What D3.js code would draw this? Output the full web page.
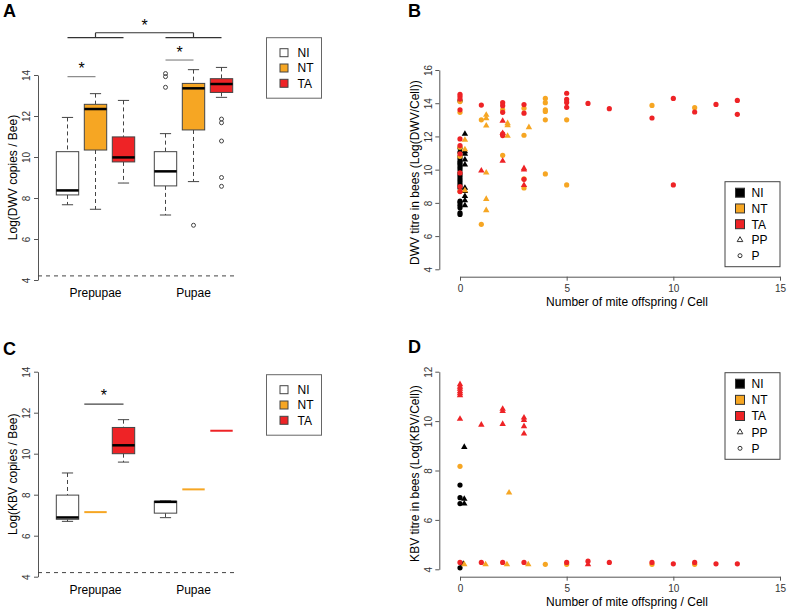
<!DOCTYPE html>
<html><head><meta charset="utf-8">
<script src="https://cdn.jsdelivr.net/npm/d3@7"></script>
<style>body{margin:0;background:#fff}svg{display:block}text{font-family:"Liberation Sans",Arial,Helvetica,sans-serif}</style>
</head><body><svg id="c" width="787" height="614"></svg>
<script>
// ---------------- DATA ----------------
const stages = ["Prepupae", "Pupae"];
const treatments = ["NI", "NT", "TA"];
const boxPositions = [1, 2, 3, 4.5, 5.5, 6.5];
const boxYTicks = [4, 6, 8, 10, 12, 14];
const detectionLimit = 4.2;
// [low whisker, Q1, median, Q3, high whisker] : Prepupae NI, NT, TA, Pupae NI, NT, TA
const dwvBoxStats = [
  [7.67, 8.15, 8.37, 10.26, 11.93],
  [7.45, 10.34, 12.34, 12.57, 13.09],
  [8.73, 9.76, 9.98, 10.98, 12.76],
  [7.17, 8.59, 9.30, 10.26, 11.14],
  [8.80, 11.32, 13.35, 13.59, 14.26],
  [12.91, 13.15, 13.56, 13.82, 14.37]
];
const dwvOutliers = [[], [], [], [14.07, 13.92, 13.40], [6.67], [11.85, 11.67, 10.78, 9.0, 8.57]];
const kbvBoxStats = [
  [6.70, 6.80, 6.89, 7.98, 9.06],
  [7.15, 7.15, 7.15, 7.15, 7.15],
  [9.59, 10.0, 10.41, 11.28, 11.66],
  [6.88, 7.10, 7.65, 7.68, 7.70],
  [8.26, 8.26, 8.26, 8.26, 8.26],
  [11.12, 11.12, 11.12, 11.12, 11.12]
];
const kbvOutliers = [[], [], [], [], [], []];

const scatterXTicks = [0, 5, 10, 15];
const dwvYTicks = [4, 6, 8, 10, 12, 14, 16];
const kbvYTicks = [4, 6, 8, 10, 12];
const scatterLegend = ["NI", "NT", "TA", "PP", "P"];

// [mite offspring per cell (as plotted), titre]
const dwvNI_P = [[0,14.15],[0,11.3],[0,11.05],[0,10.8],[0,10.65],[0,10.5],[0,10.4],[0,10.3],[0,10.15],[0,10.0],[0,9.8],[0,9.65],[0,9.5],[0,9.35],[0,9.2],[0,9.05],[0,8.9],[0,8.1],[0,8.0],[0,7.85],[0,7.7],[0,7.4],[0,7.3]];
const dwvNI_PP = [[0.23,12.15],[0.23,11.1],[0.23,10.95],[0.23,10.6],[0.23,10.3],[0.23,8.9],[0.23,8.7],[0.23,8.4],[0.23,8.15],[0.23,7.85]];
const dwvNT_P = [[0,14.1],[0,13.45],[0,11.35],[0,10.8],[0,8.7],[1,13.0],[1,6.71],[2,13.6],[2,10.86],[3,13.7],[3,12.07],[3,9.45],[3,8.9],[4,14.29],[4,14.03],[4,13.6],[4,13.5],[4,13.0],[4,9.74],[5,13.0],[5,9.08],[9,13.87],[11,13.73]];
const dwvNT_PP = [[0.23,11.79],[0.23,11.22],[0.23,8.75],[1.23,13.29],[1.23,13.09],[1.23,12.65],[1.23,9.82],[1.23,8.23],[1.23,7.55],[2.23,12.79],[2.23,12.67],[2.23,12.03],[3.23,12.55]];
const dwvTA_P = [[0,14.54],[0,14.4],[0,14.25],[0,13.6],[0,11.85],[0,11.45],[0,10.95],[0,9.8],[0,8.98],[0,8.68],[1,13.89],[2,14.03],[2,13.85],[2,13.45],[2,12.15],[2,12.05],[3,13.92],[3,13.4],[3,9.42],[5,14.6],[5,14.23],[5,14.05],[5,13.75],[6,13.99],[7,13.67],[9,13.11],[10,14.29],[10,9.08],[11,13.47],[12,13.93],[13,14.17],[13,13.33]];
const dwvTA_PP = [[1,9.94],[2,12.93],[2,12.2],[2,10.52],[3,10.08],[3,10.0],[3,9.06]];

const kbvNI_P = [[0,7.41],[0,6.9],[0,6.66],[0,4.06]];
const kbvNI_PP = [[0.2,8.95],[0.2,6.85],[0.2,6.66],[0.15,4.22]];
const kbvNT_P = [[0,8.17],[4,4.2],[5,4.2],[9,4.2],[11,4.2]];
const kbvNT_PP = [[0.2,4.2],[1.2,4.2],[2.2,4.2],[3.2,4.2],[2.3,7.1]];
const kbvTA_P = [[0,4.28],[1,4.28],[2,4.28],[3,4.28],[5,4.28],[6,4.33],[7,4.28],[9,4.28],[10,4.22],[11,4.28],[12,4.22],[13,4.22]];
const kbvTA_PP = [[0,11.49],[0,11.39],[0,11.3],[0,11.2],[0,11.12],[0,11.04],[0,10.09],[1,9.85],[2,10.49],[2,10.4],[2,9.88],[3,10.14],[3,10.04],[3,9.79],[3,9.49],[6,4.2]];

// ---------------- STYLE ----------------
const ORANGE = "#F6A623", RED = "#EE2326";
const boxFill = ["#ffffff", ORANGE, RED];
const groupColor = ["#000000", ORANGE, RED];
const svg = d3.select("#c");
svg.append("rect").attr("width", 787).attr("height", 614).attr("fill", "#fff");

function styleAxis(g) {
  g.select(".domain").attr("stroke", "#555");
  g.selectAll(".tick line").attr("stroke", "#555");
  g.selectAll(".tick text").attr("fill", "#333").attr("font-size", 10);
}

function panelLetter(t, x, y) {
  svg.append("text").attr("x", x).attr("y", y).attr("font-size", 18).attr("font-weight", "bold").text(t);
}

// ---------------- BOX PANELS ----------------
function boxPanel(o) {
  const x = d3.scaleLinear().domain([1, 6.5]).range([67.5, 221.5]);
  const y = d3.scaleLinear().domain([4, 14]).range([o.bottom, o.top]);
  const g = svg.append("g");
  const ax = g.append("g").attr("transform", "translate(38,0)")
    .call(d3.axisLeft(y).tickValues(boxYTicks).tickSize(4).tickSizeOuter(0));
  styleAxis(ax);
  ax.selectAll(".tick text").attr("x", 0).attr("y", -8).attr("dy", 0)
    .attr("text-anchor", "middle").attr("transform", "rotate(-90)");
  // detection limit
  g.append("line").attr("x1", 38).attr("x2", 237).attr("y1", y(detectionLimit)).attr("y2", y(detectionLimit))
    .attr("stroke", "#444").attr("stroke-dasharray", "4,4");
  const hw = (x(1.4) - x(0.6)) / 2;
  o.stats.forEach((s, i) => {
    const cx = x(boxPositions[i]);
    const col = boxFill[i % 3];
    const [lo, q1, med, q3, hi] = s;
    if (q1 === q3 && lo === hi) {
      g.append("line").attr("x1", cx - hw).attr("x2", cx + hw).attr("y1", y(med)).attr("y2", y(med))
        .attr("stroke", col).attr("stroke-width", 2);
      return;
    }
    const wk = "#444";
    g.append("line").attr("x1", cx).attr("x2", cx).attr("y1", y(hi)).attr("y2", y(q3)).attr("stroke", wk).attr("stroke-dasharray", "4,3");
    g.append("line").attr("x1", cx).attr("x2", cx).attr("y1", y(q1)).attr("y2", y(lo)).attr("stroke", wk).attr("stroke-dasharray", "4,3");
    [hi, lo].forEach(v => g.append("line").attr("x1", cx - hw / 2).attr("x2", cx + hw / 2).attr("y1", y(v)).attr("y2", y(v)).attr("stroke", wk));
    g.append("rect").attr("x", cx - hw).attr("width", 2 * hw).attr("y", y(q3)).attr("height", y(q1) - y(q3))
      .attr("fill", col).attr("stroke", "#444");
    g.append("line").attr("x1", cx - hw).attr("x2", cx + hw).attr("y1", y(med)).attr("y2", y(med)).attr("stroke", "#000").attr("stroke-width", 2.5);
    o.outliers[i].forEach(v => g.append("circle").attr("cx", cx).attr("cy", y(v)).attr("r", 2).attr("fill", "none").attr("stroke", "#444"));
  });
  // x labels
  stages.forEach((s, k) => {
    g.append("text").attr("x", x(k === 0 ? 2 : 5.5)).attr("y", o.bottom + 17).attr("text-anchor", "middle").attr("font-size", 12).text(s);
  });
  // y label
  g.append("text").attr("transform", `translate(17,${(o.top + o.bottom) / 2}) rotate(-90)`).attr("text-anchor", "middle")
    .attr("font-size", 12).text(o.ylabel);
  // annotations
  o.segments.forEach(sg => {
    g.append("line").attr("x1", x(sg.x1)).attr("x2", x(sg.x2)).attr("y1", y(sg.y1)).attr("y2", y(sg.y2))
      .attr("stroke", sg.c || "#333").attr("stroke-width", 1.2);
  });
  o.stars.forEach(st => {
    g.append("text").attr("x", x(st.x)).attr("y", y(st.y) + 9).attr("text-anchor", "middle").attr("font-size", 16).text("*");
  });
  // legend
  const L = g.append("g").attr("transform", `translate(266.5,${o.legendY})`);
  L.append("rect").attr("width", 55).attr("height", 60.5).attr("fill", "#fff").attr("stroke", "#666");
  treatments.forEach((t, i) => {
    const yy = 15 + i * 15.3;
    L.append("rect").attr("x", 13.5).attr("y", yy - 4).attr("width", 8).attr("height", 8).attr("fill", boxFill[i]).attr("stroke", "#444");
    L.append("text").attr("x", 31).attr("y", yy + 4.5).attr("font-size", 12).text(t);
  });
}

boxPanel({
  top: 75, bottom: 280, stats: dwvBoxStats, outliers: dwvOutliers, ylabel: "Log(DWV copies / Bee)", legendY: 37.7,
  segments: [
    { x1: 2, x2: 5.5, y1: 16.06, y2: 16.06 },
    { x1: 2, x2: 2, y1: 16.06, y2: 15.82 },
    { x1: 5.5, x2: 5.5, y1: 16.06, y2: 15.82 },
    { x1: 1, x2: 3, y1: 15.82, y2: 15.82 },
    { x1: 4.5, x2: 6.5, y1: 15.82, y2: 15.82 },
    { x1: 1, x2: 2, y1: 13.92, y2: 13.92, c: "#888" },
    { x1: 4.5, x2: 5.5, y1: 14.73, y2: 14.73, c: "#888" }
  ],
  stars: [{ x: 3.75, y: 16.6 }, { x: 1.5, y: 14.5 }, { x: 5, y: 15.27 }]
});
boxPanel({
  top: 371.7, bottom: 576.7, stats: kbvBoxStats, outliers: kbvOutliers, ylabel: "Log(KBV copies / Bee)", legendY: 374.7,
  segments: [{ x1: 1.6, x2: 3, y1: 12.42, y2: 12.42, c: "#444" }],
  stars: [{ x: 2.3, y: 13.0 }]
});
panelLetter("A", 3, 17);
panelLetter("C", 3, 355);

// ---------------- SCATTER PANELS ----------------
function scatterPanel(o) {
  const x = d3.scaleLinear().domain([0, 15]).range([460, 780]);
  const y = d3.scaleLinear().domain([o.yTicks[0], o.yTicks[o.yTicks.length - 1]]).range([o.bottom, o.top]);
  const g = svg.append("g");
  const ay = g.append("g").attr("transform", "translate(439.3,0)")
    .call(d3.axisLeft(y).tickValues(o.yTicks).tickSize(4).tickSizeOuter(0));
  styleAxis(ay);
  ay.selectAll(".tick text").attr("x", 0).attr("y", -7).attr("dy", 0)
    .attr("text-anchor", "middle").attr("transform", "rotate(-90)");
  const axx = g.append("g").attr("transform", `translate(0,${o.bottom + 7.4})`)
    .call(d3.axisBottom(x).tickValues(scatterXTicks).tickSize(4).tickSizeOuter(0));
  styleAxis(axx);
  axx.selectAll(".tick text").attr("y", 8).attr("dy", "0.71em");
  g.append("text").attr("x", 627).attr("y", o.bottom + 37).attr("text-anchor", "middle").attr("font-size", 12)
    .text("Number of mite offspring / Cell");
  g.append("text").attr("transform", `translate(419,${(o.top + o.bottom) / 2 + 3}) rotate(-90)`).attr("text-anchor", "middle")
    .attr("font-size", 12).text(o.ylabel);
  const tri = d3.symbol(d3.symbolTriangle, 18)();
  o.series.forEach((s, k) => {
    const col = groupColor[k];
    s[0].forEach(d => g.append("circle").attr("cx", x(d[0])).attr("cy", y(d[1])).attr("r", 2.6).attr("fill", col));
    s[1].forEach(d => g.append("path").attr("d", tri).attr("transform", `translate(${x(d[0])},${y(d[1])})`).attr("fill", col));
  });
  // legend
  const L = g.append("g").attr("transform", `translate(725,${o.legendY})`);
  L.append("rect").attr("width", 55).attr("height", o.legendH).attr("fill", "#fff").attr("stroke", "#444");
  const step = (o.legendH - 22) / 4;
  scatterLegend.forEach((t, i) => {
    const yy = 11 + i * step;
    if (i < 3) {
      L.append("rect").attr("x", 10.5).attr("y", yy - 4.5).attr("width", 9).attr("height", 9).attr("fill", groupColor[i]).attr("stroke", "#333");
    } else if (i === 3) {
      L.append("path").attr("d", d3.symbol(d3.symbolTriangle, 14)()).attr("transform", `translate(15,${yy})`).attr("fill", "none").attr("stroke", "#333");
    } else {
      L.append("circle").attr("cx", 15).attr("cy", yy).attr("r", 2).attr("fill", "none").attr("stroke", "#333");
    }
    L.append("text").attr("x", 26.5).attr("y", yy + 4.5).attr("font-size", 12).text(t);
  });
}

scatterPanel({
  top: 70, bottom: 269.3, yTicks: dwvYTicks, ylabel: "DWV titre in bees (Log(DWV/Cell))",
  series: [[dwvNI_P, dwvNI_PP], [dwvNT_P, dwvNT_PP], [dwvTA_P, dwvTA_PP]],
  legendY: 181.7, legendH: 85
});
scatterPanel({
  top: 371.7, bottom: 569.3, yTicks: kbvYTicks, ylabel: "KBV titre in bees (Log(KBV/Cell))",
  series: [[kbvNI_P, kbvNI_PP], [kbvNT_P, kbvNT_PP], [kbvTA_P, kbvTA_PP]],
  legendY: 372.7, legendH: 86.6
});
panelLetter("B", 408, 17);
panelLetter("D", 408, 353);
</script></body></html>
